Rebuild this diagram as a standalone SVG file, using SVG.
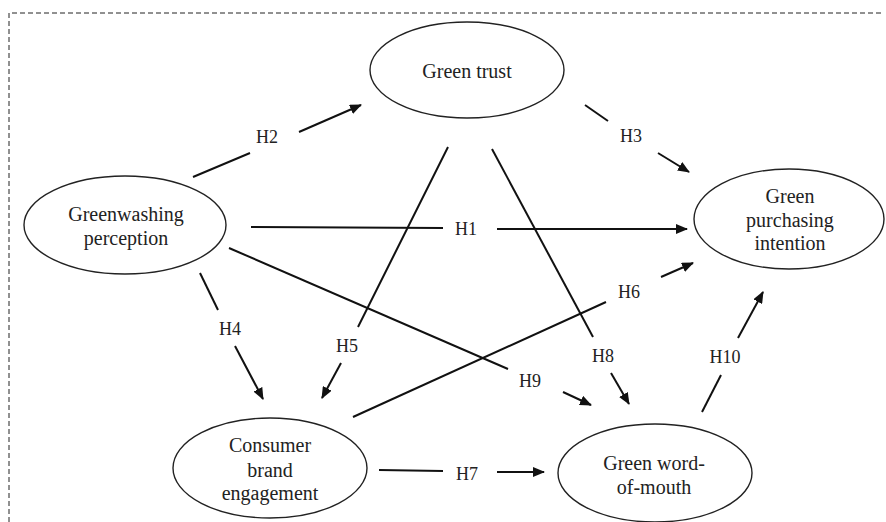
<svg xmlns="http://www.w3.org/2000/svg" width="886" height="522" viewBox="0 0 886 522">
<style>
.node ellipse{fill:#fff;stroke:#222;stroke-width:1.4}
.nt{font-family:"Liberation Serif","Times New Roman",serif;font-size:20px;fill:#222;text-anchor:middle}
.lb{font-family:"Liberation Serif","Times New Roman",serif;font-size:18px;fill:#222;text-anchor:middle}
.c line{stroke:#111;stroke-width:2;fill:none}
.border{fill:none;stroke:#222;stroke-width:1;stroke-dasharray:5 3}
</style>
<defs>
<marker id="ah" markerUnits="userSpaceOnUse" markerWidth="12" markerHeight="10" viewBox="0 0 12 10" refX="11" refY="5" orient="auto">
<path d="M0,0 L12,5 L0,10 Z" fill="#111"/>
</marker>
</defs>
<rect width="886" height="522" fill="#fff"/>
<path class="border" d="M9,530 V13 H884"/>

<g id="greenwashing" class="node">
<ellipse cx="125" cy="225" rx="101" ry="49"/>
<text class="nt" x="126" y="221">Greenwashing</text>
<text class="nt" x="126" y="245">perception</text>
</g>
<g id="trust" class="node">
<ellipse cx="467" cy="70" rx="97" ry="48"/>
<text class="nt" x="467" y="78">Green trust</text>
</g>
<g id="purchasing" class="node">
<ellipse cx="789" cy="219" rx="95" ry="50"/>
<text class="nt" x="790" y="203">Green</text>
<text class="nt" x="790" y="227">purchasing</text>
<text class="nt" x="790" y="250">intention</text>
</g>
<g id="engagement" class="node">
<ellipse cx="270" cy="468" rx="97" ry="50"/>
<text class="nt" x="270" y="452">Consumer</text>
<text class="nt" x="270" y="477">brand</text>
<text class="nt" x="270" y="500">engagement</text>
</g>
<g id="wom" class="node">
<ellipse cx="655" cy="473" rx="97" ry="49"/>
<text class="nt" x="654" y="470">Green word-</text>
<text class="nt" x="654" y="494">of-mouth</text>
</g>

<g id="connectors" class="c">
<!-- H1 -->
<line x1="251" y1="227" x2="443" y2="228"/>
<line x1="497" y1="229" x2="687" y2="229" marker-end="url(#ah)"/>
<!-- H2 -->
<line x1="193" y1="177" x2="250" y2="153"/>
<line x1="299" y1="132" x2="361" y2="105" marker-end="url(#ah)"/>
<!-- H3 -->
<line x1="585" y1="105" x2="608" y2="121"/>
<line x1="658" y1="153" x2="689" y2="172" marker-end="url(#ah)"/>
<!-- H4 -->
<line x1="200" y1="273" x2="218" y2="310"/>
<line x1="235" y1="346" x2="263" y2="399" marker-end="url(#ah)"/>
<!-- H5 -->
<line x1="448" y1="147" x2="358" y2="327"/>
<line x1="341" y1="363" x2="322" y2="398" marker-end="url(#ah)"/>
<!-- H6 -->
<line x1="353" y1="417" x2="606" y2="302"/>
<line x1="661" y1="277" x2="693" y2="263" marker-end="url(#ah)"/>
<!-- H7 -->
<line x1="379" y1="470" x2="443" y2="471"/>
<line x1="497" y1="472" x2="544" y2="472" marker-end="url(#ah)"/>
<!-- H8 -->
<line x1="492" y1="149" x2="593" y2="337"/>
<line x1="611" y1="373" x2="629" y2="404" marker-end="url(#ah)"/>
<!-- H9 -->
<line x1="229" y1="248" x2="508" y2="369"/>
<line x1="563" y1="392" x2="591" y2="405" marker-end="url(#ah)"/>
<!-- H10 -->
<line x1="702" y1="412" x2="721" y2="375"/>
<line x1="738" y1="338" x2="763" y2="292" marker-end="url(#ah)"/>
</g>

<g id="labels">
<text class="lb" x="466" y="235">H1</text>
<text class="lb" x="267" y="143">H2</text>
<text class="lb" x="631" y="142">H3</text>
<text class="lb" x="230" y="335">H4</text>
<text class="lb" x="347" y="352">H5</text>
<text class="lb" x="629" y="298">H6</text>
<text class="lb" x="467" y="480">H7</text>
<text class="lb" x="603" y="362">H8</text>
<text class="lb" x="530" y="387">H9</text>
<text class="lb" x="725" y="363">H10</text>
</g>
</svg>
